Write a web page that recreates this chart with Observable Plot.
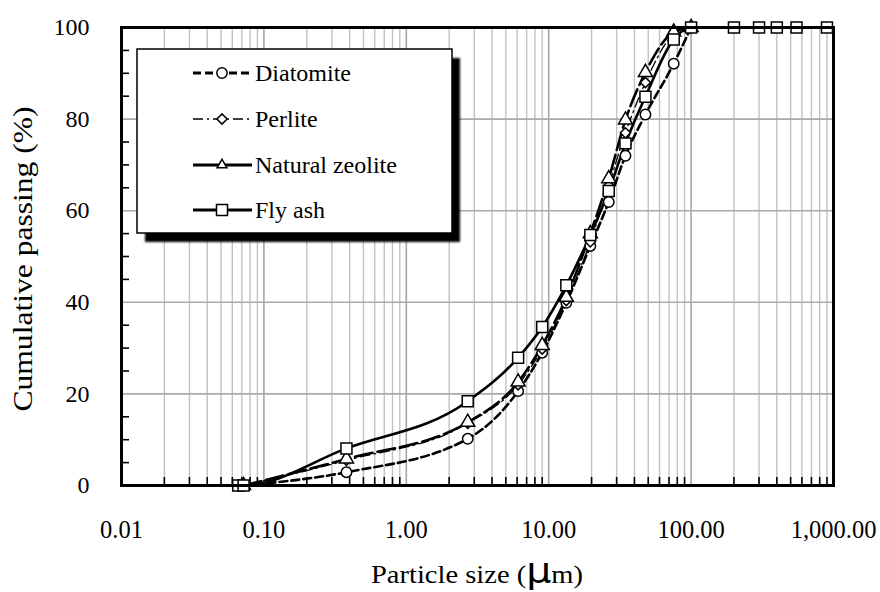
<!DOCTYPE html>
<html>
<head>
<meta charset="utf-8">
<script src="https://cdn.jsdelivr.net/npm/d3@7"></script>
<script src="https://cdn.jsdelivr.net/npm/@observablehq/plot@0.6"></script>
<style>
  html, body { margin: 0; padding: 0; background: white; }
  #chart svg { display: block; }
</style>
</head>
<body>
<div id="chart"></div>
<script>
// ---- data ----
const seriesNames = ["Diatomite", "Perlite", "Natural zeolite", "Fly ash"];

const sizesCommon = [0.072, 0.38, 2.7, 6.1, 9.0, 13.3, 19.6, 26.4, 34.6, 47.8, 75.5, 100];
const diatomite = [0, 2.9, 10.2, 20.6, 29.0, 39.9, 52.3, 61.9, 72.0, 81.0, 92.1, 100];
const perlite   = [0, 5.5, 13.6, 22.0, 29.8, 40.4, 53.2, 65.5, 77.0, 88.0, 98.5, 100];
const zeolite   = [0, 5.8, 13.8, 22.6, 30.6, 41.1, 55.0, 67.0, 79.8, 90.2, 99.0, 100];

const sizesFlyAsh = [0.066, 0.072, 0.38, 2.7, 6.1, 9.0, 13.3, 19.6, 26.4, 34.6, 47.8, 75.5, 100, 200, 300, 400, 550, 900];
const flyAsh      = [0, 0, 8.1, 18.4, 27.9, 34.6, 43.7, 54.7, 64.3, 74.7, 84.9, 97.4, 100, 100, 100, 100, 100, 100];

const xTicks = [0.01, 0.1, 1, 10, 100, 1000];
const xTickLabels = ["0.01", "0.10", "1.00", "10.00", "100.00", "1,000.00"];
const yTicks = [0, 20, 40, 60, 80, 100];
const yGrid = [20, 40, 60, 80];
const yMinor = [5, 10, 15, 25, 30, 35, 45, 50, 55, 65, 70, 75, 85, 90, 95];

// minor x positions 2..9 of each decade
const xMinor = [];
for (const d of [0.01, 0.1, 1, 10, 100]) for (let k = 2; k <= 9; k++) xMinor.push(+(d * k).toPrecision(3));
const xMajor = [0.1, 1, 10, 100];

const toRows = (xs, ys) => xs.map((x, i) => ({x, y: ys[i]}));
const dDia = toRows(sizesCommon, diatomite);
const dPer = toRows(sizesCommon, perlite);
const dZeo = toRows(sizesCommon, zeolite);
const dFly = toRows(sizesFlyAsh, flyAsh);

const styles = {
  "Diatomite":       {dash: "8,4",        width: 2.6, symbol: "circle",   r: 5.2},
  "Perlite":         {dash: "10,4,2,4",   width: 1.3, symbol: "diamond2", r: 4.6},
  "Natural zeolite": {dash: "18,5",       width: 2.6, symbol: "triangle", r: 5.2},
  "Fly ash":         {dash: null,         width: 2.6, symbol: "square",   r: 6.2}
};

const W = 880, H = 592, mL = 121, mR = 47, mT = 27, mB = 107;
const innerW = W - mL - mR, innerH = H - mT - mB;
const ff = "Liberation Serif, Times New Roman, serif";

function lineMark(data, name) {
  const s = styles[name];
  return Plot.line(data, {x: "x", y: "y", stroke: "black", strokeWidth: s.width,
    strokeDasharray: s.dash, curve: "monotone-x"});
}
function dotMark(data, name) {
  const s = styles[name];
  return Plot.dot(data, {x: "x", y: "y", symbol: s.symbol, r: s.r, fill: "white",
    stroke: "black", strokeWidth: 1.5});
}

const chart = Plot.plot({
  width: W, height: H,
  marginLeft: mL, marginRight: mR, marginTop: mT, marginBottom: mB,
  style: {fontFamily: ff, fontSize: "24px", color: "black", background: "white", overflow: "visible"},
  x: {type: "log", domain: [0.01, 1000]},
  y: {domain: [0, 100]},
  marks: [
    Plot.ruleX(xMinor, {stroke: "#c2c2c2", strokeWidth: 1.4}),
    Plot.ruleX(xMajor, {stroke: "#a6a6a6", strokeWidth: 1.6}),
    Plot.ruleY(yGrid, {stroke: "#aaaaaa", strokeWidth: 1.6}),
    // inward minor ticks
    Plot.axisY({ticks: yMinor, tickSize: 8, dx: 8, tickFormat: () => "", label: null, stroke: "black", strokeWidth: 1.6}),
    Plot.tickX(xMinor, {x: d => d, stroke: "black", strokeWidth: 1.6, insetTop: innerH - 8}),
    lineMark(dPer, "Perlite"),
    lineMark(dZeo, "Natural zeolite"),
    lineMark(dDia, "Diatomite"),
    lineMark(dFly, "Fly ash"),
    dotMark(dDia, "Diatomite"),
    dotMark(dPer, "Perlite"),
    dotMark(dZeo, "Natural zeolite"),
    dotMark(dFly, "Fly ash"),
    Plot.frame({stroke: "black", strokeWidth: 3}),
    Plot.axisX({ticks: xTicks, tickFormat: d => xTickLabels[xTicks.indexOf(d)], tickSize: 0, tickPadding: 35,
      label: null, fontSize: 24.5, fill: "black"}),
    Plot.axisY({ticks: yTicks, tickSize: 0, tickPadding: 32, label: null, fontSize: 24, fill: "black"})
  ]
});

document.getElementById("chart").appendChild(chart);

// ---- axis titles and legend ----
const svg = d3.select(chart);

const xt = svg.append("text")
  .attr("x", (mL + W - mR) / 2).attr("y", 583)
  .attr("text-anchor", "middle").attr("font-family", ff).attr("font-size", 26).attr("fill", "black")
  .attr("textLength", 212).attr("lengthAdjust", "spacingAndGlyphs");
xt.append("tspan").text("Particle size (");
xt.append("tspan").attr("font-size", 36).attr("font-family", "DejaVu Sans, sans-serif").text("μ");
xt.append("tspan").text("m)");

svg.append("text")
  .attr("transform", `translate(32,${mT + innerH / 2 + 3}) rotate(-90)`)
  .attr("text-anchor", "middle").attr("font-family", ff).attr("font-size", 27).attr("fill", "black")
  .attr("textLength", 305).attr("lengthAdjust", "spacingAndGlyphs")
  .text("Cumulative passing (%)");

// legend
const defs = svg.append("defs");
defs.append("filter").attr("id", "shblur").append("feGaussianBlur").attr("stdDeviation", 1.2);
const lg = svg.append("g");
const bx = 137, by = 49, bw = 315, bh = 184;
lg.append("rect").attr("x", bx + 8).attr("y", by + 9).attr("width", bw).attr("height", bh)
  .attr("fill", "black").attr("filter", "url(#shblur)");
lg.append("rect").attr("x", bx).attr("y", by).attr("width", bw).attr("height", bh)
  .attr("fill", "white").attr("stroke", "black").attr("stroke-width", 1.5);

const rowY = [73, 119, 165, 210];
const symMap = {circle: d3.symbolCircle, diamond2: d3.symbolDiamond2, triangle: d3.symbolTriangle, square: d3.symbolSquare};
seriesNames.forEach((name, i) => {
  const s = styles[name];
  const y = rowY[i];
  lg.append("line").attr("x1", 193).attr("x2", 252).attr("y1", y).attr("y2", y)
    .attr("stroke", "black").attr("stroke-width", s.width + (name === "Perlite" ? 0 : 0.6))
    .attr("stroke-dasharray", name === "Natural zeolite" ? null : s.dash);
  lg.append("path")
    .attr("d", d3.symbol(symMap[s.symbol], Math.PI * s.r * s.r * (name === "Natural zeolite" ? 0.5 : 1))())
    .attr("transform", `translate(222,${y})`)
    .attr("fill", "white").attr("stroke", "black").attr("stroke-width", 1.5);
  lg.append("text").attr("x", 255).attr("y", y).attr("dy", "0.35em")
    .attr("text-anchor", "start")
    .attr("font-family", ff).attr("font-size", 24).attr("fill", "black").text(name);
});
</script>
</body>
</html>
